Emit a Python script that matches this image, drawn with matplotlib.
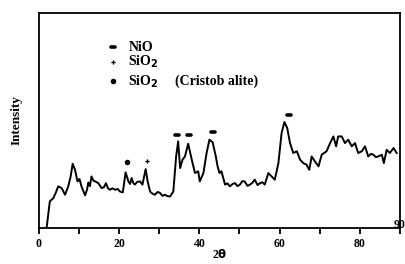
import matplotlib
matplotlib.use('Agg')
import matplotlib.pyplot as plt

# XRD pattern (intensity in arbitrary units, 0-100 axis)
two_theta = [1.9, 2.7, 3.6, 4.2, 4.8, 5.65, 6.5, 7.3, 7.9, 8.4, 9.0, 9.6, 10.1, 10.6,
             11.5, 12.0, 12.3, 12.7, 13.1, 13.6, 14.0, 14.8, 15.6, 16.2, 16.7, 17.2,
             17.7, 18.3, 19.0, 19.6, 20.2, 20.9, 21.6, 22.3, 22.7, 23.1, 23.5, 23.9,
             24.5, 25.2, 25.8, 26.6, 27.1, 27.7, 28.3, 28.9, 29.6, 30.2, 30.8, 31.4,
             32.1, 32.7, 33.5, 34.2, 34.7, 35.2, 35.8, 36.4, 37.2, 38.1, 38.9, 39.7,
             40.1, 41.0, 41.8, 42.5, 43.3, 44.1, 44.5, 45.0, 45.5, 46.4, 47.0, 47.6,
             48.3, 48.9, 49.5, 50.1, 50.7, 51.3, 52.0, 52.6, 53.2, 53.8, 54.5, 55.1,
             55.7, 56.3, 57.2, 58.0, 58.8, 59.7, 60.5, 61.2, 61.9, 62.6, 63.4, 64.3,
             65.1, 65.9, 66.7, 67.4, 68.0, 68.8, 69.7, 70.5, 71.7, 72.6, 73.4, 74.1,
             74.6, 75.5, 76.3, 77.1, 78.0, 78.8, 79.6, 80.5, 81.3, 82.1, 82.8, 83.4,
             84.0, 84.6, 85.5, 86.0, 86.7, 87.5, 88.4, 89.2]
intensity = [0.0, 12.4, 14.0, 16.5, 19.4, 18.6, 15.5, 19.4, 24.0, 29.9, 27.0, 21.7, 22.8, 19.4,
             15.2, 18.0, 21.2, 19.5, 24.0, 22.0, 21.7, 20.9, 18.6, 19.0, 20.9, 18.5,
             17.8, 18.5, 17.8, 18.2, 17.0, 16.6, 25.9, 21.7, 20.5, 23.3, 21.0, 20.2,
             21.5, 21.7, 20.2, 27.4, 21.7, 17.0, 16.0, 15.5, 16.8, 16.3, 15.0, 15.5,
             14.8, 14.7, 17.0, 33.3, 40.3, 27.9, 31.8, 33.3, 39.2, 31.8, 25.6, 26.4,
             21.7, 25.6, 34.9, 41.1, 39.9, 33.3, 29.0, 25.6, 26.4, 20.2, 20.8, 19.4,
             20.5, 20.9, 19.5, 20.2, 21.8, 21.7, 19.6, 20.2, 21.0, 22.5, 20.0, 20.9,
             21.3, 20.2, 25.6, 24.0, 22.5, 30.2, 44.2, 49.3, 46.5, 39.5, 34.9, 35.7,
             31.8, 30.2, 29.5, 27.1, 33.3, 31.0, 28.7, 34.1, 35.7, 39.5, 42.6, 38.0,
             42.6, 42.6, 39.5, 41.1, 38.0, 39.5, 34.9, 35.7, 38.0, 33.3, 34.5, 34.1,
             33.0, 33.3, 34.1, 30.2, 36.4, 34.9, 37.2, 34.9]

# peak markers
nio_x = [34.5, 37.4, 43.3, 62.4]
nio_y = [43.4, 43.4, 44.8, 52.7]
sio2_x = [26.9]
sio2_y = [31.3]
crist_x = [21.9]
crist_y = [30.7]

plt.rcParams['font.family'] = ['Liberation Serif', 'DejaVu Serif']
plt.rcParams['font.weight'] = 'bold'

fig = plt.figure(figsize=(4.06, 2.64), dpi=100)
ax = fig.add_axes([0.096, 0.136, 0.889, 0.815])
ax.plot(two_theta, intensity, color='black', lw=1.4)

for xx, yy in zip(nio_x, nio_y):
    ax.plot([xx - 0.5, xx + 0.5], [yy, yy], color='black', lw=2.6, solid_capstyle='round')
ax.plot(sio2_x, sio2_y, ls='none', marker='P', ms=3, color='black', markeredgewidth=0)
ax.plot(crist_x, crist_y, ls='none', marker='o', ms=4, color='black', markeredgewidth=0)

# legend drawn by hand as in the original
ax.plot([18.0, 19.0], [84, 84], color='black', lw=2.6, solid_capstyle='round')
ax.plot([18.5], [77.2], ls='none', marker='P', ms=3, color='black', markeredgewidth=0)
ax.plot([18.5], [68.2], ls='none', marker='o', ms=4, color='black', markeredgewidth=0)
ax.text(22.3, 84, 'NiO', fontsize=10, va='center', fontweight='bold')
ax.text(22.3, 77.2, r'SiO$_\mathbf{2}$', fontsize=10, va='center', fontweight='bold')
ax.text(22.3, 68.2, r'SiO$_\mathbf{2}$', fontsize=10, va='center', fontweight='bold')
ax.text(33.8, 68.2, '(Cristob alite)', fontsize=10, va='center', fontweight='bold')

ax.set_xlim(0, 90)
ax.set_ylim(0, 100)
ax.set_xticks(range(0, 91, 10))
ax.set_xticklabels(['0', '', '20', '', '40', '', '60', '', '80', ''])
ax.tick_params(axis='x', direction='out', length=4, width=1.3, labelsize=8.5, pad=3)
ax.set_yticks([])
ax.text(90, 1.5, '90', fontsize=8.5, ha='center', va='center', fontweight='bold')
for s in ax.spines.values():
    s.set_linewidth(1.3)

ax.set_ylabel('Intensity', fontsize=9.5, fontweight='bold', labelpad=12)
ax.set_xlabel(r'2$\mathbf{\theta}$', fontsize=8.5, fontweight='bold', labelpad=-1)

fig.savefig('out.png', dpi=100)
